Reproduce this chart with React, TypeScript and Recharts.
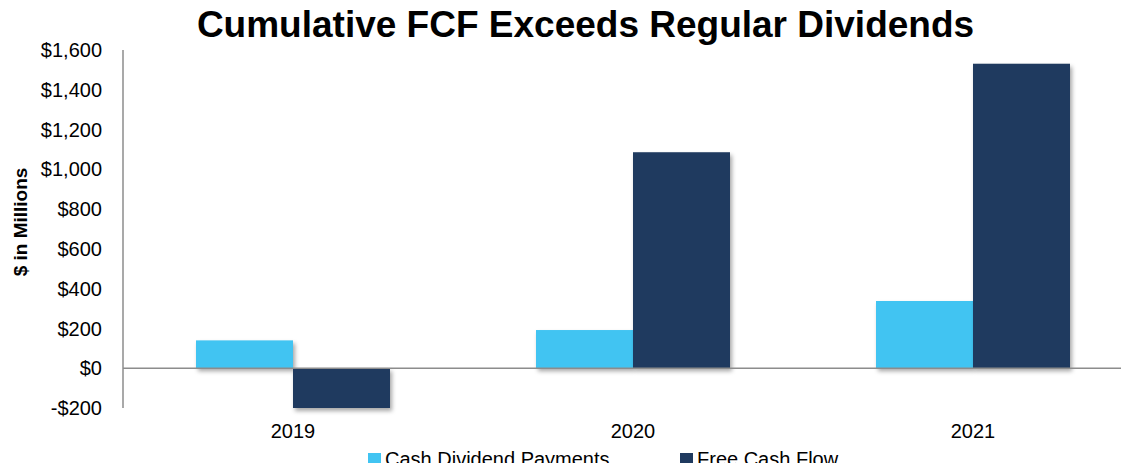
import React from "react";
import { BarChart, Bar, XAxis, YAxis, ReferenceLine } from "recharts";

const years = ["2019", "2020", "2021"];
const cashDividends = [140, 192, 338];
const freeCashFlow = [-200, 1086, 1531];
const yTicks = [-200, 0, 200, 400, 600, 800, 1000, 1200, 1400, 1600];

const SERIES = [
  { key: "dividends", name: "Cash Dividend Payments", color: "#41C4F2" },
  { key: "fcf", name: "Free Cash Flow", color: "#1F3A5F" },
];

const data = years.map((y, i) => ({
  year: y,
  dividends: cashDividends[i],
  fcf: freeCashFlow[i],
}));

const FONT = "'Liberation Sans', Arial, Helvetica, sans-serif";

const fmt = (v: number) =>
  (v < 0 ? "-$" : "$") + Math.abs(v).toLocaleString("en-US");

const ShadowRect = (props: any) => {
  const { x, y, width, height, fill } = props;
  if (width == null || height == null) return null;
  const h = Math.abs(height);
  const top = height < 0 ? y + height : y;
  return (
    <rect
      x={x}
      y={top}
      width={width}
      height={h}
      fill={fill}
      style={{ filter: "drop-shadow(2px 3px 2px rgba(0,0,0,0.35))" }}
    />
  );
};

const YLabel = () => (
  <text
    x={12}
    y={214}
    transform="rotate(-90 12 214)"
    textAnchor="middle"
    dominantBaseline="central"
    fontFamily={FONT}
    fontWeight="bold"
    fontSize={19}
    fill="#000"
  >
    $ in Millions
  </text>
);

export default function App() {
  return (
    <div
      style={{
        position: "relative",
        width: 1121,
        height: 455,
        fontFamily: FONT,
      }}
    >
      <div
        style={{
          position: "absolute",
          left: 0,
          width: 1121,
          top: 0,
          paddingLeft: 34,
          boxSizing: "border-box",
          textAlign: "center",
          fontSize: 37,
          fontWeight: "bold",
          color: "#000",
          lineHeight: "34px",
          whiteSpace: "nowrap",
        }}
      >
        Cumulative FCF Exceeds Regular Dividends
      </div>
      <BarChart
        width={1121}
        height={455}
        data={data}
        margin={{ top: 42, right: -14, bottom: 25, left: 0 }}
        barCategoryGap="21.5%"
        barGap={0}
      >
        <XAxis
          dataKey="year"
          axisLine={false}
          tickLine={false}
          tickSize={0}
          tickMargin={16}
          height={30}
          tick={{ fill: "#000", fontSize: 20, fontFamily: FONT }}
        />
        <YAxis
          width={115}
          domain={[-200, 1600]}
          ticks={yTicks}
          tickFormatter={fmt}
          axisLine={{ stroke: "#8c8c8c", strokeWidth: 1.5 }}
          tickLine={false}
          tickSize={0}
          tickMargin={21}
          interval={0}
          tick={{ fill: "#000", fontSize: 20, fontFamily: FONT }}
        />
        {SERIES.map((s) => (
          <Bar
            key={s.key}
            dataKey={s.key}
            name={s.name}
            fill={s.color}
            barSize={97}
            isAnimationActive={false}
            shape={ShadowRect}
          />
        ))}
        <ReferenceLine y={0} stroke="#8c8c8c" strokeWidth={1.5} />
        <YLabel />
      </BarChart>
      <div
        style={{
          position: "absolute",
          top: 441,
          left: 0,
          width: 1121,
          height: 22,
          fontSize: 20,
          color: "#000",
        }}
      >
        {SERIES.map((s, i) => (
          <div
            key={s.key}
            style={{
              position: "absolute",
              left: i === 0 ? 360 : 672,
              top: 0,
              whiteSpace: "nowrap",
              lineHeight: "20px",
            }}
          >
            <span
              style={{
                display: "inline-block",
                width: 13,
                height: 13,
                background: s.color,
                marginRight: 4,
                verticalAlign: "baseline",
              }}
            />
            {s.name}
          </div>
        ))}
      </div>
    </div>
  );
}
